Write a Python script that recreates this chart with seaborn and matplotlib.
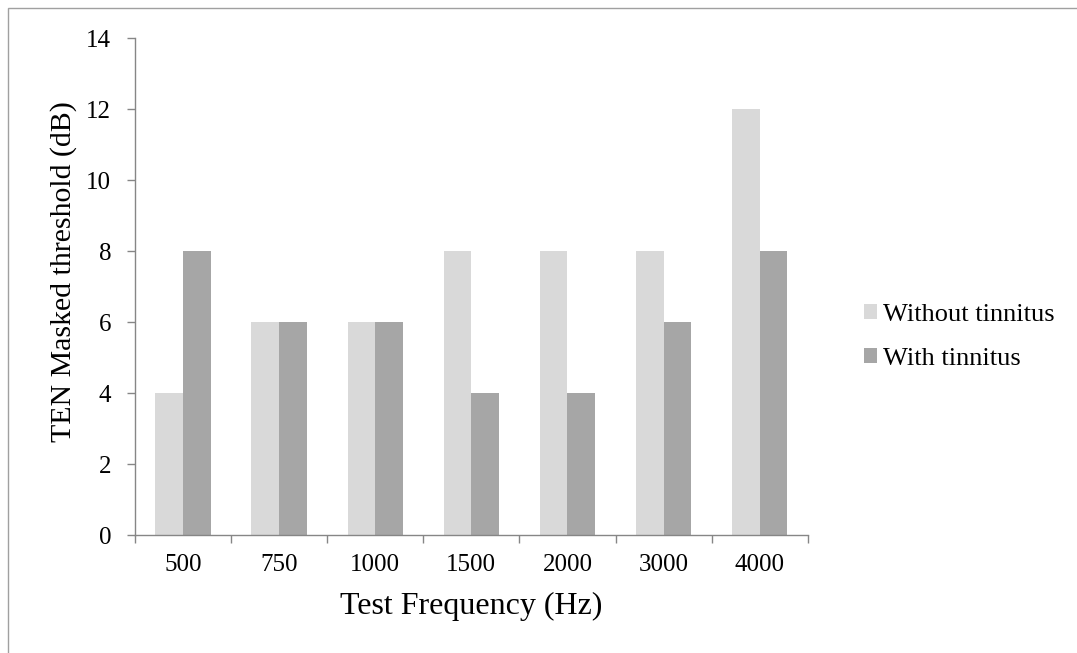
import pandas as pd
import seaborn as sns
import matplotlib.pyplot as plt
from matplotlib.patches import Rectangle

# chart values
frequencies = ['500', '750', '1000', '1500', '2000', '3000', '4000']
without_tinnitus = [4, 6, 6, 8, 8, 8, 12]
with_tinnitus = [8, 6, 6, 4, 4, 6, 8]
groups = ['Without tinnitus', 'With tinnitus']
colors = ['#D9D9D9', '#A6A6A6']

df = pd.DataFrame({
    'freq': frequencies * 2,
    'threshold': without_tinnitus + with_tinnitus,
    'group': [groups[0]] * len(frequencies) + [groups[1]] * len(frequencies),
})

sns.set_style('white')
plt.rcParams['font.family'] = ['Liberation Serif', 'DejaVu Serif']
plt.rcParams['text.color'] = 'black'
plt.rcParams['axes.labelcolor'] = 'black'

fig = plt.figure(figsize=(10.77, 6.53), dpi=100)
ax = fig.add_axes([0.1253, 0.1807, 0.6247, 0.7611])

sns.barplot(data=df, x='freq', y='threshold', hue='group', order=frequencies,
            hue_order=groups, palette=colors, width=0.575, saturation=1,
            edgecolor='none', linewidth=0, ax=ax)

ax.set_ylim(0, 14)
ax.set_yticks(range(0, 15, 2))
ax.set_xlim(-0.5, len(frequencies) - 0.5)

# category boundary ticks like Excel
ax.set_xticks([i - 0.5 for i in range(len(frequencies) + 1)], minor=True)
ax.tick_params(axis='x', which='major', length=0, pad=14, labelsize=18, labelcolor='black')
ax.tick_params(axis='x', which='minor', bottom=True, length=6, width=1, color='#868686', direction='out')
ax.tick_params(axis='y', left=True, length=6, width=1, color='#868686', direction='out',
               labelsize=18, labelcolor='black', pad=11)

for side in ['top', 'right']:
    ax.spines[side].set_visible(False)
for side in ['left', 'bottom']:
    ax.spines[side].set_color('#868686')
    ax.spines[side].set_linewidth(1)

ax.set_xlabel('Test Frequency (Hz)', fontsize=23, labelpad=11)
ax.set_ylabel('TEN Masked threshold (dB)', fontsize=21.5)
ax.yaxis.set_label_coords(-0.086, 0.53)

ax.legend(title=None, frameon=False, fontsize=19, loc='center left',
          bbox_to_anchor=(1.083, 0.399), borderaxespad=0, borderpad=0,
          handlelength=0.5, handleheight=0.5, handletextpad=0.25, labelspacing=0.82)

# outer chart border
fig.patches.append(Rectangle((8 / 1077, -0.1), 1.2, 1 - 8 / 653 + 0.1,
                             transform=fig.transFigure, fill=False,
                             edgecolor='#A0A0A0', linewidth=1))

fig.savefig('out.png', dpi=100)
